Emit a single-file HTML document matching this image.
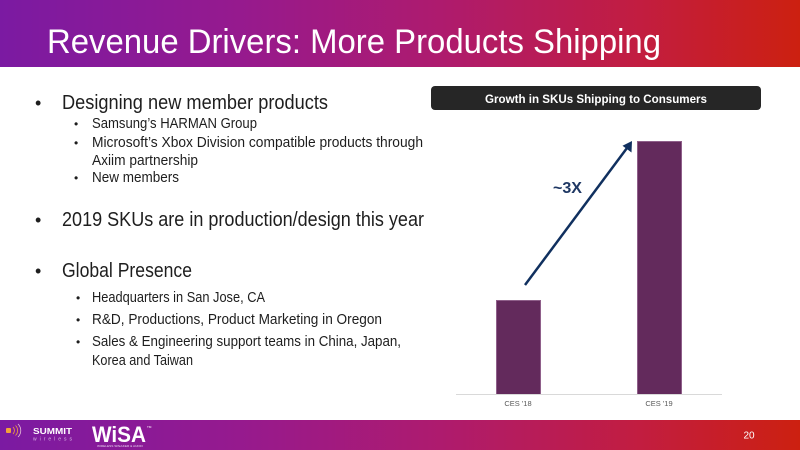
<!DOCTYPE html>
<html>
<head>
<meta charset="utf-8">
<style>
  html, body { margin: 0; padding: 0; background: #ffffff; }
  body { width: 800px; height: 450px; overflow: hidden; }
  svg { display: block; }
  .t { font-family: "Liberation Sans", "DejaVu Sans", sans-serif; }
</style>
</head>
<body>
<svg width="800" height="450" viewBox="0 0 800 450" xmlns="http://www.w3.org/2000/svg">
  <defs>
    <linearGradient id="band" x1="0" y1="0" x2="1" y2="0">
      <stop offset="0" stop-color="#7b1aa2"/>
      <stop offset="0.3" stop-color="#961a8e"/>
      <stop offset="0.55" stop-color="#ae1b6e"/>
      <stop offset="0.8" stop-color="#c21d40"/>
      <stop offset="1" stop-color="#cc2010"/>
    </linearGradient>
  </defs>

  <!-- Header -->
  <rect x="0" y="0" width="800" height="67" fill="url(#band)"/>
  <text class="t" x="47" y="53" font-size="34" fill="#ffffff" textLength="614" lengthAdjust="spacingAndGlyphs">Revenue Drivers: More Products Shipping</text>

  <!-- Left bullets -->
  <g class="t" fill="#1e1e1e">
    <text x="35" y="109" font-size="18">•</text>
    <text x="62" y="109" font-size="20" textLength="266" lengthAdjust="spacingAndGlyphs">Designing new member products</text>

    <text x="74" y="128" font-size="12">•</text>
    <text x="92" y="128" font-size="14.5" textLength="165" lengthAdjust="spacingAndGlyphs">Samsung’s HARMAN Group</text>
    <text x="74" y="147" font-size="12">•</text>
    <text x="92" y="147" font-size="14.5" textLength="331" lengthAdjust="spacingAndGlyphs">Microsoft’s Xbox Division compatible products through</text>
    <text x="92" y="165" font-size="14.5" textLength="106" lengthAdjust="spacingAndGlyphs">Axiim partnership</text>
    <text x="74" y="182" font-size="12">•</text>
    <text x="92" y="182" font-size="14.5" textLength="87" lengthAdjust="spacingAndGlyphs">New members</text>

    <text x="35" y="226" font-size="18">•</text>
    <text x="62" y="226" font-size="20" textLength="362" lengthAdjust="spacingAndGlyphs">2019 SKUs are in production/design this year</text>

    <text x="35" y="277" font-size="18">•</text>
    <text x="62" y="277" font-size="20" textLength="130" lengthAdjust="spacingAndGlyphs">Global Presence</text>

    <text x="76" y="302" font-size="12">•</text>
    <text x="92" y="302" font-size="14.5" textLength="173" lengthAdjust="spacingAndGlyphs">Headquarters in San Jose, CA</text>
    <text x="76" y="324" font-size="12">•</text>
    <text x="92" y="324" font-size="14.5" textLength="290" lengthAdjust="spacingAndGlyphs">R&amp;D, Productions, Product Marketing in Oregon</text>
    <text x="76" y="346" font-size="12">•</text>
    <text x="92" y="346" font-size="14.5" textLength="309" lengthAdjust="spacingAndGlyphs">Sales &amp; Engineering support teams in China, Japan,</text>
    <text x="92" y="365" font-size="14.5" textLength="101" lengthAdjust="spacingAndGlyphs">Korea and Taiwan</text>
  </g>

  <!-- Chart title box -->
  <rect x="431" y="86" width="330" height="24" rx="4" ry="4" fill="#262626"/>
  <text class="t" x="596" y="103" font-size="12" font-weight="bold" fill="#ffffff" text-anchor="middle" textLength="222" lengthAdjust="spacingAndGlyphs">Growth in SKUs Shipping to Consumers</text>

  <!-- Bars -->
  <rect x="496.5" y="300.5" width="44" height="94" fill="#632a5c" stroke="#8f5f8a" stroke-width="1"/>
  <rect x="637.5" y="141.5" width="44" height="253" fill="#632a5c" stroke="#8f5f8a" stroke-width="1"/>

  <!-- Axis -->
  <line x1="456" y1="394.5" x2="722" y2="394.5" stroke="#d9d9d9" stroke-width="1"/>
  <text class="t" x="518" y="406" font-size="7.5" fill="#595959" text-anchor="middle">CES '18</text>
  <text class="t" x="659" y="406" font-size="7.5" fill="#595959" text-anchor="middle">CES '19</text>

  <!-- Arrow -->
  <line x1="525" y1="285" x2="627" y2="148" stroke="#10305f" stroke-width="2.5"/>
  <polygon points="632,141 631.5,152.5 622.5,145.8" fill="#10305f"/>
  <text class="t" x="553" y="193" font-size="16" font-weight="bold" fill="#1f3864" textLength="29" lengthAdjust="spacingAndGlyphs">~3X</text>

  <!-- Footer -->
  <rect x="0" y="420" width="800" height="30" fill="url(#band)"/>
  <!-- Summit logo -->
  <rect x="6" y="428" width="5" height="5" rx="1" fill="#f2a23a"/>
  <path d="M13,427 a5,5 0 0 1 0,7" fill="none" stroke="#f2a23a" stroke-width="0.8"/>
  <path d="M15.5,425.5 a7,7 0 0 1 0,10" fill="none" stroke="#f2a23a" stroke-width="0.8"/>
  <path d="M18,424 a9,9 0 0 1 0,13" fill="none" stroke="#e8c0d8" stroke-width="0.8"/>
  <text class="t" x="33" y="434" font-size="8" font-weight="bold" fill="#ffffff" textLength="39" lengthAdjust="spacingAndGlyphs">SUMMIT</text>
  <text class="t" x="33" y="440.5" font-size="5" fill="#d9b6e6" textLength="39" lengthAdjust="spacing">wireless</text>
  <!-- WiSA logo -->
  <text class="t" x="92" y="442" font-size="22" font-weight="bold" fill="#ffffff" textLength="54" lengthAdjust="spacingAndGlyphs">WiSA</text>
  <text class="t" x="147" y="428" font-size="3" fill="#ffffff">TM</text>
  <text class="t" x="97" y="447" font-size="2.6" fill="#e6d0ee" textLength="46" lengthAdjust="spacingAndGlyphs">WIRELESS SPEAKER &amp; AUDIO</text>

  <!-- Page number -->
  <text class="t" x="749" y="438.5" font-size="10" fill="#ffffff" text-anchor="middle">20</text>
</svg>
</body>
</html>
